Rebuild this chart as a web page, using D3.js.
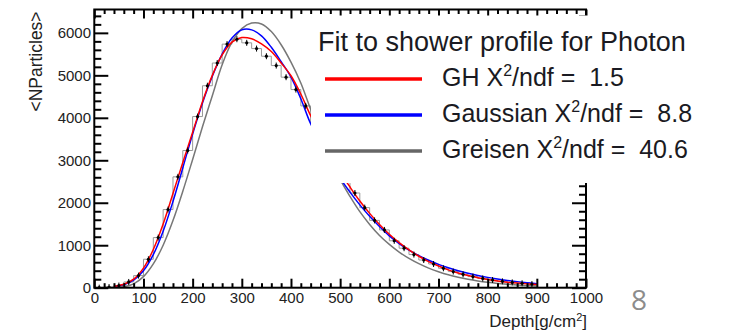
<!DOCTYPE html>
<html>
<head>
<meta charset="utf-8">
<script src="https://cdn.jsdelivr.net/npm/d3@7"></script>
<style>
body { margin: 0; background: #fff; }
text { font-family: "Liberation Sans", Arial, sans-serif; }
</style>
</head>
<body>
<div id="chart"></div>
<script>
// Histogram bins (centre of 20 g/cm2 bins) and mean number of particles
const binCenters = [10, 30, 50, 70, 90, 110, 130, 150, 170, 190, 210, 230, 250, 270, 290,
    310, 330, 350, 370, 390, 410, 430, 450, 470, 490, 510, 530, 550, 570, 590,
    610, 630, 650, 670, 690, 710, 730, 750, 770, 790, 810, 830, 850, 870, 890];
const meanParticles = [0, 15, 50, 135, 285, 670, 1180, 1840, 2610, 3230, 4030, 4755, 5290, 5735, 5850,
    5765, 5630, 5450, 5230, 4956, 4665, 4280, 3860, 3430, 3010, 2600, 2230, 1885, 1585, 1360,
    1105, 930, 780, 652, 558, 457, 380, 315, 262, 218, 181, 150, 125, 104, 86];

// Fitted curves
const curveDepth = [40, 60, 80, 100, 120, 140, 160, 180, 200, 220, 240, 260, 280, 300, 320,
    340, 360, 380, 400, 420, 440, 460, 480, 500, 520, 540, 560, 580, 600, 620,
    640, 660, 680, 700, 720, 740, 760, 780, 800, 820, 840, 860, 880, 900];
const ghFit = [30, 80, 200, 460, 900, 1500, 2220, 2950, 3660, 4380, 5000, 5480, 5780, 5890, 5860,
    5740, 5560, 5290, 4990, 4560, 4050, 3620, 3160, 2720, 2370, 2040, 1750, 1490, 1260, 1060,
    890, 740, 615, 510, 420, 345, 285, 235, 195, 160, 130, 108, 90, 75];
const gaussFit = [25, 70, 180, 400, 780, 1330, 2030, 2820, 3620, 4350, 4980, 5500, 5880, 6070, 6070,
    5930, 5660, 5320, 4960, 4450, 3860, 3420, 2980, 2580, 2250, 1950, 1680, 1440, 1220, 1040,
    885, 755, 645, 550, 468, 398, 338, 287, 243, 205, 172, 143, 118, 96];
const greisenFit = [0, 20, 90, 260, 560, 1000, 1580, 2270, 3020, 3790, 4520, 5250, 5780, 6100, 6230,
    6210, 6030, 5720, 5310, 4820, 4200, 3620, 3060, 2550, 2150, 1790, 1490, 1230, 1020, 840,
    690, 565, 460, 375, 303, 245, 197, 158, 126, 100, 80, 63, 50, 40];

// Tick labels
const xTickValues = [0, 100, 200, 300, 400, 500, 600, 700, 800, 900, 1000];
const yTickValues = [0, 1000, 2000, 3000, 4000, 5000, 6000];

// Legend
const legendTitle = "Fit to shower profile for Photon";
const legendNames = ["GH", "Gaussian", "Greisen"];
const legendChi2 = ["1.5", "8.8", "40.6"];
const legendColors = ["#ff0000", "#0000ff", "#666666"];

const width = 733, height = 336;
const plot = { left: 94.3, right: 586, top: 9.5, bottom: 287.7 };

const svg = d3.select("#chart")
    .append("svg")
    .attr("width", width)
    .attr("height", height);

const x = d3.scaleLinear().domain([0, 1000]).range([plot.left, plot.right]);
const y = d3.scaleLinear().domain([0, 6550]).range([plot.bottom, plot.top]);

svg.append("clipPath").attr("id", "plotclip")
    .append("rect")
    .attr("x", plot.left).attr("y", plot.top)
    .attr("width", plot.right - plot.left).attr("height", plot.bottom - plot.top);

const g = svg.append("g").attr("clip-path", "url(#plotclip)");

// Histogram outline (step)
const steps = binCenters.map((c, i) => [c - 10, meanParticles[i]]);
steps.push([binCenters[binCenters.length - 1] + 10, meanParticles[meanParticles.length - 1]]);
g.append("path")
    .datum(steps)
    .attr("fill", "none")
    .attr("stroke", "#999")
    .attr("stroke-width", 1)
    .attr("d", d3.line().x(d => x(d[0])).y(d => y(d[1])).curve(d3.curveStepAfter));

// Fit curves
const fitLine = d3.line().x(d => x(d[0])).y(d => y(d[1])).curve(d3.curveCatmullRom);
[[greisenFit, "#777"], [gaussFit, "#0000ff"], [ghFit, "#ff0000"]].forEach(([vals, col]) => {
    g.append("path")
        .datum(curveDepth.map((d, i) => [d, vals[i]]))
        .attr("fill", "none")
        .attr("stroke", col)
        .attr("stroke-width", 1.5)
        .attr("d", fitLine);
});

// Data points with small error bars
const pts = g.selectAll(".pt")
    .data(binCenters.map((c, i) => [c, meanParticles[i]]))
    .enter().append("g").attr("class", "pt");
pts.append("line")
    .attr("x1", d => x(d[0])).attr("x2", d => x(d[0]))
    .attr("y1", d => y(d[1]) - 3).attr("y2", d => y(d[1]) + 3)
    .attr("stroke", "#000").attr("stroke-width", 1);
pts.append("circle")
    .attr("cx", d => x(d[0])).attr("cy", d => y(d[1]))
    .attr("r", 1.6).attr("fill", "#000");

// Axes (ticks pointing inwards, ROOT style)
function styleAxis(sel) {
    sel.select(".domain").remove();
    sel.selectAll("line").attr("stroke", "#000").attr("stroke-width", 2);
    sel.selectAll("text").style("font-size", "15px").attr("fill", "#222");
}
const xMinor = d3.range(0, 1001, 20).filter(v => v % 100 !== 0);
const yMinor = d3.range(0, 6500, 200).filter(v => v % 1000 !== 0);
const fmt = d3.format("d");

svg.append("g").attr("transform", `translate(0,${plot.bottom})`)
    .call(d3.axisBottom(x).tickValues(xTickValues).tickFormat(fmt).tickSize(-9).tickPadding(4.5)).call(styleAxis);
svg.append("g").attr("transform", `translate(0,${plot.bottom})`)
    .call(d3.axisBottom(x).tickValues(xMinor).tickSize(-4.5).tickFormat("")).call(styleAxis);
svg.append("g").attr("transform", `translate(0,${plot.top})`)
    .call(d3.axisTop(x).tickValues(xTickValues).tickSize(-9).tickFormat("")).call(styleAxis);
svg.append("g").attr("transform", `translate(0,${plot.top})`)
    .call(d3.axisTop(x).tickValues(xMinor).tickSize(-4.5).tickFormat("")).call(styleAxis);

svg.append("g").attr("transform", `translate(${plot.left},0)`)
    .call(d3.axisLeft(y).tickValues(yTickValues).tickFormat(fmt).tickSize(-14).tickPadding(3.3)).call(styleAxis);
svg.append("g").attr("transform", `translate(${plot.left},0)`)
    .call(d3.axisLeft(y).tickValues(yMinor).tickSize(-7).tickFormat("")).call(styleAxis);
svg.append("g").attr("transform", `translate(${plot.right},0)`)
    .call(d3.axisRight(y).tickValues(yTickValues).tickSize(-14).tickFormat("")).call(styleAxis);
svg.append("g").attr("transform", `translate(${plot.right},0)`)
    .call(d3.axisRight(y).tickValues(yMinor).tickSize(-7).tickFormat("")).call(styleAxis);

// Frame
svg.append("rect")
    .attr("x", plot.left).attr("y", plot.top)
    .attr("width", plot.right - plot.left).attr("height", plot.bottom - plot.top)
    .attr("fill", "none").attr("stroke", "#000").attr("stroke-width", 2);

// Axis titles
svg.append("text")
    .attr("transform", "translate(42,61.5) rotate(-90)")
    .attr("text-anchor", "middle")
    .style("font-size", "17.5px").attr("fill", "#222")
    .text("<NParticles>");

const xt = svg.append("text")
    .attr("x", plot.right + 1).attr("y", 327)
    .attr("text-anchor", "end")
    .style("font-size", "17px").attr("fill", "#222");
xt.append("tspan").text("Depth[g/cm");
xt.append("tspan").attr("dy", -6).style("font-size", "11px").text("2");
xt.append("tspan").attr("dy", 6).text("]");

// Legend box (white, covers part of the plot)
svg.append("rect")
    .attr("x", 311).attr("y", 15.5)
    .attr("width", 430).attr("height", 167.5)
    .attr("fill", "#fff");

svg.append("text")
    .attr("x", 318).attr("y", 51)
    .style("font-size", "27px").attr("fill", "#1a1a22")
    .text(legendTitle);

legendNames.forEach((name, i) => {
    const cy = 79 + i * 36;
    svg.append("line")
        .attr("x1", 325).attr("x2", 422)
        .attr("y1", cy).attr("y2", cy)
        .attr("stroke", legendColors[i]).attr("stroke-width", 3.5);
    const t = svg.append("text")
        .attr("x", 442).attr("y", cy + 7)
        .style("font-size", "25px").style("white-space", "pre").attr("fill", "#1a1a22");
    t.append("tspan").text(name + " X");
    t.append("tspan").attr("dy", -10).style("font-size", "16px").text("2");
    t.append("tspan").attr("dy", 10).text("/ndf =  " + legendChi2[i]);
});

// Slide number
svg.append("text")
    .attr("x", 639).attr("y", 310)
    .attr("text-anchor", "middle")
    .style("font-family", "'Open Sans', sans-serif")
    .style("font-size", "28px").attr("fill", "#8c8c8c")
    .text("8");
</script>
</body>
</html>
